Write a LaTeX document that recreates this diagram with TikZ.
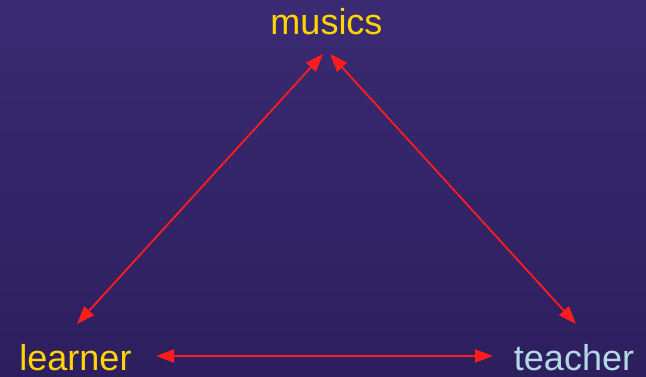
\documentclass[tikz,border=0pt]{standalone}
\usepackage{fontspec}
\setmainfont{Liberation Sans}
\usetikzlibrary{arrows.meta}
\definecolor{bgtop}{RGB}{58,42,114}
\definecolor{bgbot}{RGB}{45,31,94}
\definecolor{labyellow}{RGB}{255,214,0}
\definecolor{labblue}{RGB}{178,218,228}
\definecolor{arrred}{RGB}{255,28,28}
\tikzset{
  lab/.style={anchor=base, inner sep=0pt, font=\fontsize{36}{42}\selectfont},
  link/.style={draw=arrred, line width=1.8pt, {Triangle[length=18pt,width=13pt]}-{Triangle[length=18pt,width=13pt]}}
}
\begin{document}
\begin{tikzpicture}[x=1pt,y=-1pt]
\shade[top color=bgtop, bottom color=bgbot] (0,0) rectangle (646,377);
\useasboundingbox (0,0) rectangle (646,377);
\node[lab, text=labyellow] (musics) at (326.5,35) {musics};
\node[lab, text=labyellow] (learner) at (75.5,370) {learner};
\node[lab, text=labblue] (teacher) at (574,370) {teacher};
\coordinate (mL) at (323,54);
\coordinate (mR) at (330,54);
\coordinate (lT) at (77,324);
\coordinate (tT) at (576,324);
\coordinate (lR) at (156,356);
\coordinate (tL) at (493,356);
\draw[link] (lT) -- (mL);
\draw[link] (mR) -- (tT);
\draw[link] (lR) -- (tL);
\end{tikzpicture}
\end{document}
